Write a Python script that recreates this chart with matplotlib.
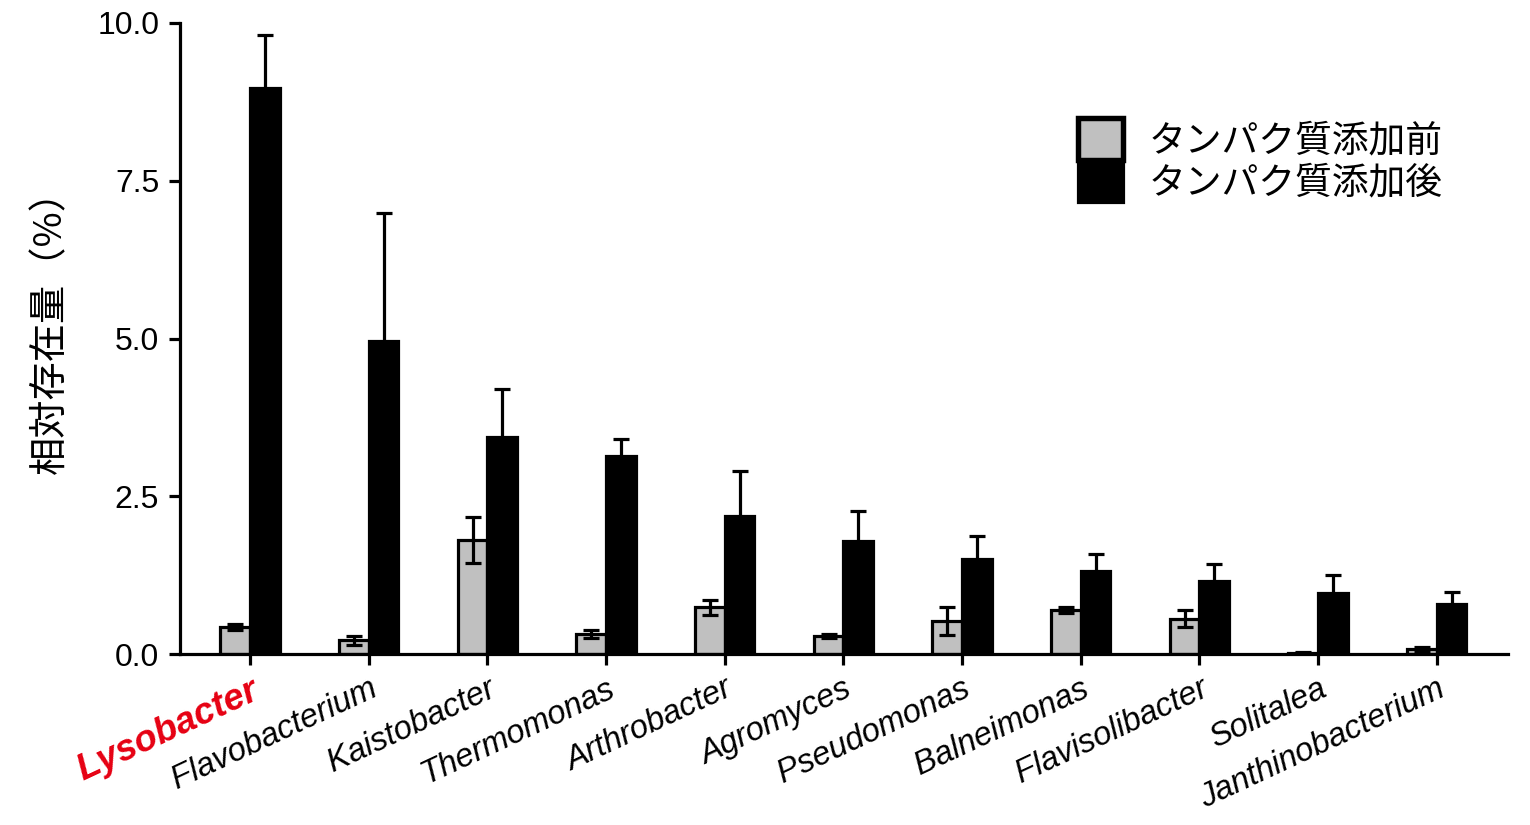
import matplotlib
matplotlib.use("Agg")
import matplotlib.pyplot as plt
from matplotlib.patches import Patch
import numpy as np

plt.rcParams['font.family'] = ['Liberation Sans', 'Noto Sans CJK JP', 'DejaVu Sans']

genera = ['Lysobacter', 'Flavobacterium', 'Kaistobacter', 'Thermomonas', 'Arthrobacter',
          'Agromyces', 'Pseudomonas', 'Balneimonas', 'Flavisolibacter', 'Solitalea',
          'Janthinobacterium']
before = [0.43, 0.22, 1.81, 0.32, 0.74, 0.29, 0.52, 0.70, 0.56, 0.02, 0.08]
before_err = [0.05, 0.07, 0.36, 0.06, 0.12, 0.03, 0.22, 0.05, 0.13, 0.01, 0.03]
after = [8.97, 4.96, 3.44, 3.14, 2.19, 1.79, 1.50, 1.32, 1.15, 0.96, 0.79]
after_err = [0.84, 2.03, 0.76, 0.27, 0.71, 0.48, 0.37, 0.26, 0.27, 0.29, 0.20]

label_before = 'タンパク質添加前'
label_after = 'タンパク質添加後'

fig = plt.figure(figsize=(15.3, 8.25), dpi=100)
ax = fig.add_axes([180 / 1530, 1 - 654 / 825, 1328 / 1530, 631 / 825])

x = np.arange(len(genera))
w = 0.25
lw = 2.3
err_kw = dict(ecolor='black', elinewidth=lw, capsize=5.5, capthick=lw)

ax.bar(x - w / 2, before, w, color='#c0c0c0', edgecolor='black', linewidth=lw,
       yerr=before_err, error_kw=err_kw, zorder=2)
ax.bar(x + w / 2, after, w, color='black', edgecolor='black', linewidth=lw,
       yerr=after_err, error_kw=err_kw, zorder=2)

ax.set_xlim(-0.59, 10.6)
ax.set_ylim(0, 10)
ax.set_yticks([0, 2.5, 5.0, 7.5, 10.0])
ax.set_yticklabels(['0.0', '2.5', '5.0', '7.5', '10.0'], fontsize=23)
ax.set_xticks(x)
ax.set_xticklabels(genera, rotation=25, ha='right', rotation_mode='anchor',
                   fontsize=23.5, style='italic')
# 強調する属
lab = ax.get_xticklabels()[0]
lab.set_color('#e60012')
lab.set_fontweight('bold')
lab.set_fontsize(26.5)

for s in ['top', 'right']:
    ax.spines[s].set_visible(False)
for s in ['left', 'bottom']:
    ax.spines[s].set_linewidth(lw)
ax.tick_params(axis='both', width=lw, length=8, direction='out')
ax.tick_params(axis='x', pad=6)
ax.tick_params(axis='y', pad=7)

ax.set_ylabel('相対存在量（%）', fontsize=27.5, family=['Noto Sans CJK JP'])
ax.yaxis.set_label_coords(-0.083, 0.525)

handles = [Patch(facecolor='#c0c0c0', edgecolor='black', linewidth=lw * 1.7, label=label_before),
           Patch(facecolor='black', edgecolor='black', linewidth=lw, label=label_after)]
fig.legend(handles=handles, loc='upper left', bbox_to_anchor=(1060 / 1530, 1 - 100 / 825),
           frameon=False, handlelength=1.2, handleheight=1.35,
           labelspacing=0.0, handletextpad=0.7, borderpad=0,
           prop={'family': ['Noto Sans CJK JP'], 'size': 26.5})

fig.savefig('out.png', dpi=100)
